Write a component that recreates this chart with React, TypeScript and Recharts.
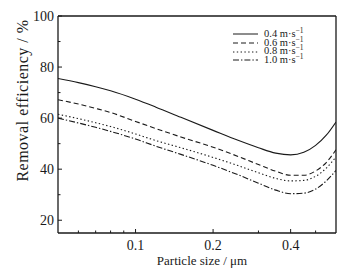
import React from "react";
import {
  LineChart,
  Line,
  XAxis,
  YAxis,
  Legend,
  ReferenceLine,
} from "recharts";

// particle size (µm) and removal efficiency (%) for each gas velocity
const sizes = [0.05, 0.06, 0.07, 0.08, 0.1, 0.12, 0.15, 0.2, 0.25, 0.3, 0.35, 0.4, 0.45, 0.5, 0.55, 0.6];
const v04 = [75.5, 73.9, 72.3, 70.7, 67.4, 64.3, 60.3, 55.2, 51.3, 48.4, 46.3, 45.6, 46.6, 49.3, 53.3, 58.5];
const v06 = [67.2, 65.5, 63.8, 62.2, 58.7, 55.9, 52.6, 48.6, 45.0, 41.8, 39.2, 37.6, 37.6, 39.3, 42.6, 47.6];
const v08 = [61.5, 59.8, 58.2, 56.7, 53.8, 51.2, 48.4, 44.6, 41.4, 38.6, 36.4, 35.4, 35.6, 37.2, 40.4, 44.8];
const v10 = [60.0, 58.1, 56.4, 54.8, 51.8, 49.0, 45.8, 41.5, 37.8, 34.5, 31.8, 30.4, 30.6, 32.2, 35.4, 39.5];

const seriesNames = ["0.4", "0.6", "0.8", "1.0"];
const xTicks = [0.06, 0.07, 0.08, 0.09, 0.1, 0.2, 0.3, 0.4, 0.5];
const xMajor = [0.1, 0.2, 0.4];
const yTicks = [20, 30, 40, 50, 60, 70, 80, 90, 100];
const yMajor = [20, 40, 60, 80, 100];

const data = sizes.map((s, i) => ({
  size: s,
  a: v04[i],
  b: v06[i],
  c: v08[i],
  d: v10[i],
}));

const FONT = "'Liberation Serif', 'Times New Roman', serif";
const INK = "#1a1a1a";
const dashes = ["", "5 3", "1.4 2.4", "6 2 1.4 2"];

const XTick = (props: any) => {
  const { x, y, payload } = props;
  const major = xMajor.includes(payload.value);
  return (
    <g>
      <line x1={x} x2={x} y1={y} y2={y - (major ? 4 : 2.5)} stroke={INK} strokeWidth={1} />
      {major && (
        <text x={x} y={y + 17} textAnchor="middle" fontSize={14} fontFamily={FONT} fill={INK}>
          {payload.value}
        </text>
      )}
    </g>
  );
};

const YTick = (props: any) => {
  const { x, y, payload } = props;
  const major = yMajor.includes(payload.value);
  return (
    <g>
      <line x1={x} x2={x + (major ? 4 : 2.5)} y1={y} y2={y} stroke={INK} strokeWidth={1} />
      {major && (
        <text x={x - 4} y={y + 5} textAnchor="end" fontSize={14} fontFamily={FONT} fill={INK}>
          {payload.value}
        </text>
      )}
    </g>
  );
};

const LegendBox = () => (
  <div style={{ fontFamily: FONT, fontSize: 10.5, color: INK, lineHeight: "8.7px" }}>
    {seriesNames.map((n, i) => (
      <div key={n} style={{ display: "flex", alignItems: "center", height: 8.7 }}>
        <svg width={28} height={8} style={{ marginRight: 5 }}>
          <line x1={2} x2={27} y1={4} y2={4} stroke={INK} strokeWidth={1} strokeDasharray={dashes[i]} />
        </svg>
        <span>
          {n} m·s<sup style={{ fontSize: 7.5, verticalAlign: "4px", lineHeight: 0 }}>−1</sup>
        </span>
      </div>
    ))}
  </div>
);

export default function App() {
  const keys = ["a", "b", "c", "d"];
  return (
    <div style={{ position: "absolute", left: 0, top: 0, background: "#fff" }}>
      <LineChart
        width={355}
        height={271}
        data={data}
        margin={{ top: 16, right: 19, bottom: 0, left: 0 }}
      >
        <XAxis
          dataKey="size"
          type="number"
          scale="log"
          domain={[0.05, 0.6]}
          allowDataOverflow
          ticks={xTicks}
          interval={0}
          height={38}
          tickSize={0}
          tickMargin={0}
          tick={<XTick />}
          tickLine={false}
          axisLine={{ stroke: INK, strokeWidth: 1.3 }}
          label={(p: any) => {
            const vb = p.viewBox;
            return (
              <text
                x={vb.x + vb.width / 2 + 5}
                y={vb.y + 32}
                textAnchor="middle"
                fontSize={13}
                fontFamily={FONT}
                fill={INK}
              >
                Particle size / μm
              </text>
            );
          }}
        />
        <YAxis
          type="number"
          domain={[15, 100]}
          ticks={yTicks}
          interval={0}
          width={58}
          tickSize={0}
          tickMargin={0}
          tick={<YTick />}
          tickLine={false}
          axisLine={{ stroke: INK, strokeWidth: 1.3 }}
          label={(p: any) => {
            const vb = p.viewBox;
            const cx = vb.x + 28;
            const cy = vb.y + vb.height / 2 - 24;
            return (
              <text
                x={cx}
                y={cy}
                transform={`rotate(-90 ${cx} ${cy})`}
                textAnchor="middle"
                fontSize={16}
                letterSpacing={0.5}
                fontFamily={FONT}
                fill={INK}
              >
                Removal efficiency / %
              </text>
            );
          }}
        />
        <ReferenceLine y={100} stroke={INK} strokeWidth={1.3} />
        <ReferenceLine x={0.6} stroke={INK} strokeWidth={1.3} />
        {keys.map((k, i) => (
          <Line
            key={k}
            dataKey={k}
            name={seriesNames[i]}
            type="monotone"
            stroke={INK}
            strokeWidth={1.1}
            strokeDasharray={dashes[i]}
            dot={false}
            isAnimationActive={false}
          />
        ))}
        <Legend
          layout="horizontal"
          verticalAlign="middle"
          align="center"
          content={<LegendBox />}
          wrapperStyle={{ top: 30, left: 231, width: 100 }}
        />
      </LineChart>
    </div>
  );
}
